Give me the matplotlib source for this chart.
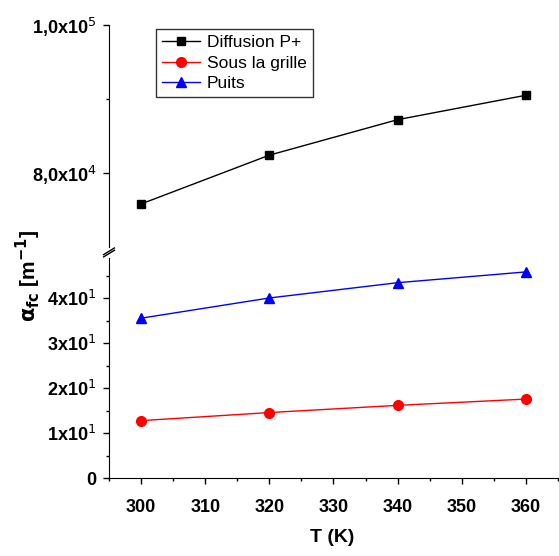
import matplotlib
matplotlib.use('Agg')
import matplotlib.pyplot as plt
from matplotlib.ticker import FixedLocator, FixedFormatter

plt.rcParams['font.family'] = ['Liberation Sans Narrow', 'Liberation Sans', 'DejaVu Sans']

T = [300, 320, 340, 360]
diffusion = [75800, 82400, 87200, 90500]
grille = [12.8, 14.6, 16.2, 17.6]
puits = [35.6, 40.1, 43.5, 45.9]

fig = plt.figure(figsize=(5.59, 5.56), dpi=100)
ax_hi = fig.add_axes([0.195, 0.556, 0.803, 0.399])
ax_lo = fig.add_axes([0.195, 0.140, 0.803, 0.396])

for ax in (ax_hi, ax_lo):
    ax.spines['top'].set_visible(False)
    ax.spines['right'].set_visible(False)
    ax.set_xlim(295, 365)
    ax.tick_params(direction='out', width=1, length=4, pad=5)
    ax.tick_params(which='minor', direction='out', width=1, length=2.5)

l1, = ax_hi.plot(T, diffusion, 'k-s', lw=1, ms=6, label='Diffusion P+')
l2, = ax_lo.plot(T, grille, 'r-o', lw=1, ms=7, label='Sous la grille')
l3, = ax_lo.plot(T, puits, 'b-^', lw=1, ms=7, label='Puits')

ax_hi.set_ylim(70000, 100000)
ax_hi.spines['bottom'].set_visible(False)
ax_hi.set_xticks([])
ax_hi.yaxis.set_major_locator(FixedLocator([80000, 100000]))
ax_hi.yaxis.set_major_formatter(FixedFormatter([r'8,0x10$^{4}$', r'1,0x10$^{5}$']))
ax_hi.yaxis.set_minor_locator(FixedLocator([90000]))

ax_lo.set_ylim(0, 49)
ax_lo.set_yticks([0, 10, 20, 30, 40])
ax_lo.set_yticklabels(['0', r'1x10$^{1}$', r'2x10$^{1}$', r'3x10$^{1}$', r'4x10$^{1}$'])
ax_lo.yaxis.set_minor_locator(FixedLocator([5, 15, 25, 35, 45]))
ax_lo.set_xticks([300, 310, 320, 330, 340, 350, 360])
ax_lo.xaxis.set_minor_locator(FixedLocator([295, 305, 315, 325, 335, 345, 355, 365]))
ax_lo.tick_params(axis='x', pad=11)

for ax in (ax_hi, ax_lo):
    for lab in ax.get_xticklabels() + ax.get_yticklabels():
        lab.set_fontweight('bold')
        lab.set_fontsize(13)

# break marks on the y axis
kw = dict(color='k', lw=1, clip_on=False)
ax_hi.plot([-0.012, 0.012], [-0.035, -0.005], transform=ax_hi.transAxes, **kw)
ax_lo.plot([-0.012, 0.012], [1.005, 1.035], transform=ax_lo.transAxes, **kw)

leg = ax_hi.legend(handles=[l1, l2, l3], loc='upper left', bbox_to_anchor=(0.085, 1.02),
                   fontsize=12.5, frameon=True, fancybox=False, edgecolor='k',
                   handlelength=2.2, borderpad=0.35, labelspacing=0.3, handletextpad=0.4)
leg.get_frame().set_linewidth(1)

fig.text(0.05, 0.505, r'$\mathbf{\alpha_{fc}}$ [m$^{\mathbf{-1}}$]', rotation=90,
         ha='center', va='center', fontsize=15, fontweight='bold')
fig.text(0.595, 0.033, 'T (K)', ha='center', va='center', fontsize=14, fontweight='bold')

fig.savefig('out.png', dpi=100)
